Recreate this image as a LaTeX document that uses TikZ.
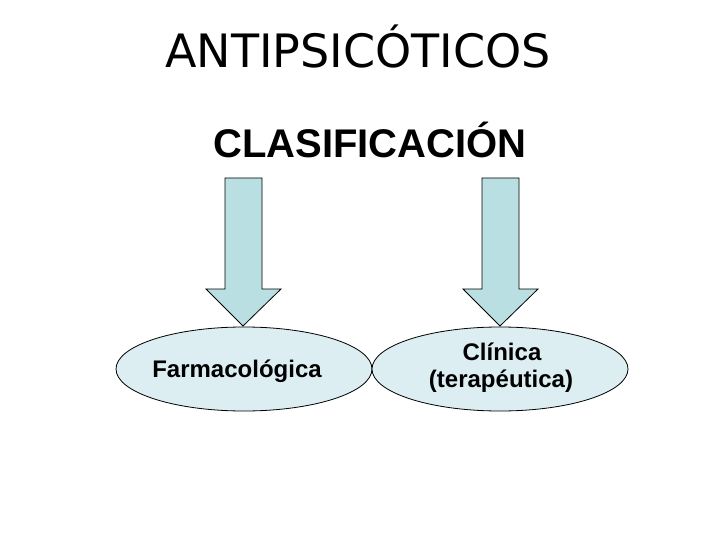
\documentclass[tikz,border=0pt]{standalone}
\usepackage{fontspec}
\usetikzlibrary{shapes.geometric}
\newfontfamily\titlefont{DejaVu Sans}
\newfontfamily\headfont{Liberation Sans}
\newfontfamily\lblfont{Liberation Sans}
\definecolor{arrowfill}{RGB}{185,223,226}
\definecolor{ellfill}{RGB}{220,238,242}
\tikzset{
  blockarrow/.style={draw=black, line width=0.8pt, fill=arrowfill, line join=miter},
  oval/.style={ellipse, draw=black, line width=0.8pt, fill=ellfill, minimum width=256pt, minimum height=84pt, inner sep=0pt},
  lbl/.style={font=\lblfont\bfseries\fontsize{24}{28}\selectfont, inner sep=0pt, anchor=base},
}
\begin{document}
\begin{tikzpicture}[x=1pt,y=-1pt]
\useasboundingbox[fill=white] (0,0) rectangle (720,540);
\node[font=\titlefont\fontsize{46}{55}\selectfont, inner sep=0pt, anchor=base] (title) at (358,68) {ANTIPSICÓTICOS};
\node[font=\headfont\bfseries\fontsize{40}{48}\selectfont, inner sep=0pt, anchor=base] (clas) at (370,158) {CLASIFICACIÓN};
\node[oval] (farm) at (244,369) {};
\node[oval] (clin) at (500,369) {};
\node[lbl] (farmtxt) at (237,377) {Farmacológica};
\node[lbl] (clintxt1) at (502,360) {Clínica};
\node[lbl] (clintxt2) at (501,387) {(terapéutica)};
\coordinate (tipA) at (243,326);
\coordinate (tipB) at (500,326);
\draw[blockarrow] (225,178) -- (262,178) -- (262,289) -- (281,289) -- (tipA) -- (206,289) -- (225,289) -- cycle;
\draw[blockarrow] (482,178) -- (519,178) -- (519,289) -- (538,289) -- (tipB) -- (463,289) -- (482,289) -- cycle;
\end{tikzpicture}
\end{document}
